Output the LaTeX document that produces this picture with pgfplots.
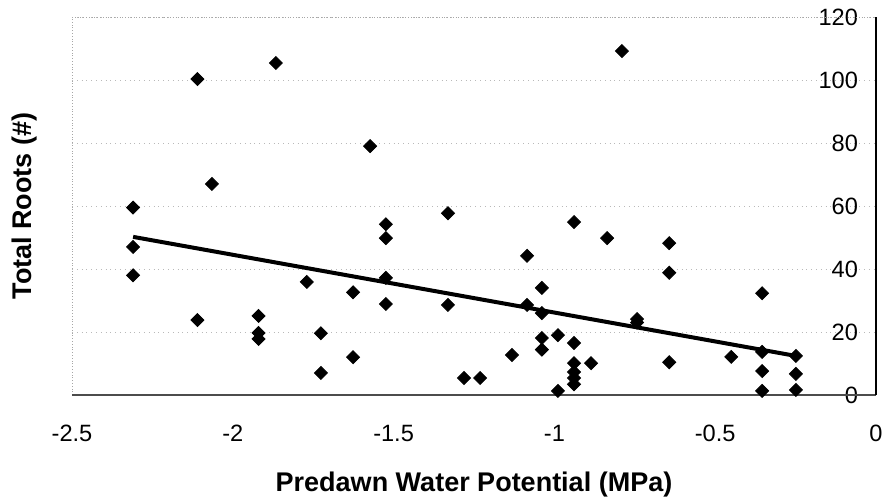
\documentclass[border=0pt]{standalone}
\usepackage{pgfplots}
\pgfplotsset{compat=1.18}
\usepackage{fontspec}
\setmainfont{Liberation Sans}
\begin{document}
\begin{tikzpicture}
\useasboundingbox (-36pt,-51.5pt) rectangle (405.5pt,197.5pt);
\begin{axis}[
  at={(0,0)}, anchor=south west,
  scale only axis, width=402pt, height=189pt,
  xmin=-2.5, xmax=0, ymin=0, ymax=120,
  xtick={-2.5,-2,-1.5,-1,-0.5,0},
  xticklabels={-2.5,-2,-1.5,-1,-0.5,0},
  ytick={0,20,40,60,80,100,120},
  yticklabels={0,20,40,60,80,100,120},
  yticklabel pos=right,
  major tick length=0pt,
  tick style={draw=none},
  xticklabel style={font=\fontsize{11.8}{13}\selectfont, anchor=north, yshift=-11.5pt},
  yticklabel style={font=\fontsize{11.8}{13}\selectfont, anchor=east, xshift=-5.5pt},
  ymajorgrids, grid style={dotted, gray!55},
  axis line style={draw=none},
  xlabel={\textbf{Predawn Water Potential (MPa)}},
  ylabel={\textbf{Total Roots (\#)}},
  xlabel style={font=\fontsize{13.5}{15}\selectfont, at={(axis description cs:0.5,-0.254)}, anchor=base},
  ylabel style={font=\fontsize{13.5}{15}\selectfont, at={(axis description cs:-0.0498,0.5)}, anchor=base, rotate=0},
  clip=false,
]
\draw[densely dotted, gray!70] (rel axis cs:0,0) -- (rel axis cs:0,1) -- (rel axis cs:1,1);
\draw[gray!60!black, line width=0.6pt] (rel axis cs:0,0) -- (rel axis cs:1,0);
\draw[black, line width=0.7pt] (rel axis cs:1,0) -- (rel axis cs:1,1);
\addplot[only marks, mark=square*, mark size=2.3pt, mark options={rotate=45, fill=black, draw=black}] coordinates {
(-2.31,59.5)(-2.31,47)(-2.31,38)
(-2.11,100.3)(-2.11,23.8)
(-2.065,67)
(-1.92,25.1)(-1.92,19.7)(-1.92,17.8)
(-1.866,105.4)
(-1.77,35.9)
(-1.726,19.6)(-1.726,7.0)
(-1.626,32.6)(-1.626,12.0)
(-1.573,79)
(-1.524,54.2)(-1.524,49.8)(-1.524,37.2)(-1.524,28.9)
(-1.331,57.7)(-1.331,28.6)
(-1.281,5.4)(-1.231,5.4)
(-1.132,12.7)
(-1.085,44.2)(-1.085,28.6)
(-1.039,34.0)(-1.039,26.0)(-1.039,18.1)(-1.039,14.4)
(-0.989,19.0)(-0.989,1.3)
(-0.939,54.9)(-0.939,16.5)(-0.939,10.1)(-0.939,7.3)(-0.939,5.4)(-0.939,3.4)
(-0.886,10.1)
(-0.836,49.8)
(-0.79,109.2)
(-0.743,24.1)(-0.743,23.0)
(-0.643,48.2)(-0.643,38.8)(-0.643,10.4)
(-0.45,12.1)
(-0.354,32.3)(-0.354,13.7)(-0.354,7.6)(-0.354,1.3)
(-0.249,12.4)(-0.249,6.7)(-0.249,1.6)
};
\addplot[black, line width=2pt, no marks] coordinates {(-2.31,50.2) (-0.249,12.4)};
\end{axis}
\end{tikzpicture}
\end{document}
